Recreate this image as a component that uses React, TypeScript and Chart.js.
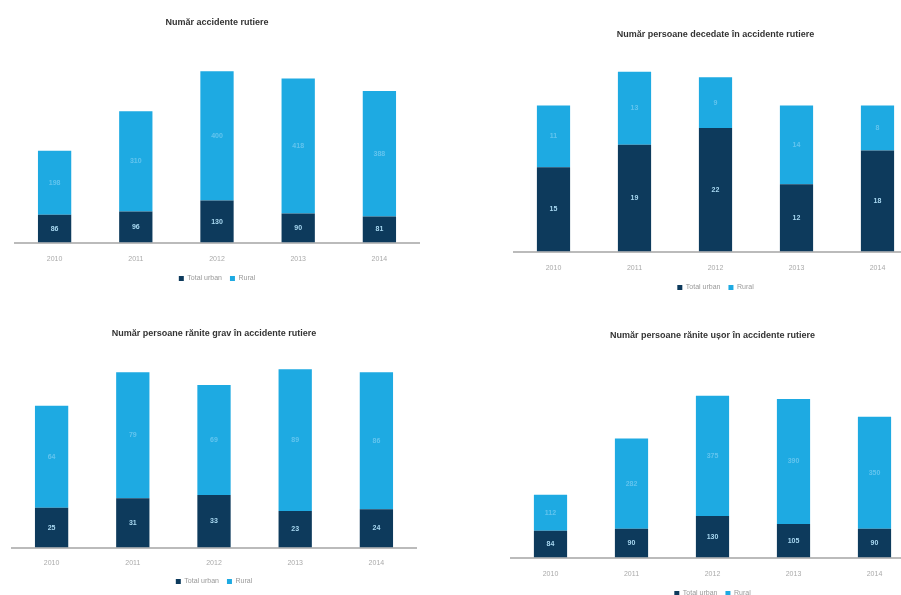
import React, { useEffect, useRef } from "react";
import { Chart, registerables } from "chart.js";

Chart.register(...registerables);

const years = ["2010", "2011", "2012", "2013", "2014"];
const legendDark = "Total urban";
const legendLight = "Rural";

const accidentsTitle = "Număr accidente rutiere";
const accidentsDark = [86, 96, 130, 90, 81];
const accidentsLight = [198, 310, 400, 418, 388];

const deathsTitle = "Număr persoane decedate în accidente rutiere";
const deathsDark = [15, 19, 22, 12, 18];
const deathsLight = [11, 13, 9, 14, 8];

const severeTitle = "Număr persoane rănite grav în accidente rutiere";
const severeDark = [25, 31, 33, 23, 24];
const severeLight = [64, 79, 69, 89, 86];

const lightTitle = "Număr persoane rănite ușor în accidente rutiere";
const lightDark = [84, 90, 130, 105, 90];
const lightLight = [112, 282, 375, 390, 350];

const DARK = "#0d3a5c";
const LIGHT = "#1eaae2";

const labelPlugin = {
  id: "barLabels",
  afterDatasetsDraw(chart: any) {
    const ctx = chart.ctx;
    ctx.save();
    ctx.font = "bold 7px 'Liberation Sans', Arial, sans-serif";
    ctx.textAlign = "center";
    ctx.textBaseline = "middle";
    chart.data.datasets.forEach((ds: any, di: number) => {
      const meta = chart.getDatasetMeta(di);
      meta.data.forEach((el: any, i: number) => {
        const v = ds.data[i];
        const cy = (el.y + el.base) / 2;
        ctx.fillStyle = di === 0 ? "#a9d9f2" : "#62c4ee";
        ctx.fillText(String(v), el.x, cy);
      });
    });
    ctx.restore();
  },
};

type Props = {
  title: string;
  dark: number[];
  light: number[];
  left: number;
  top: number;
  width: number;
  height: number;
  ymax: number;
  titleGap: number;
  tickPad: number;
};

function StackChart({ title, dark, light, left, top, width, height, ymax, titleGap, tickPad }: Props) {
  const ref = useRef<HTMLCanvasElement | null>(null);
  useEffect(() => {
    if (!ref.current) return;
    const chart = new Chart(ref.current, {
      type: "bar",
      data: {
        labels: years,
        datasets: [
          { label: legendDark, data: dark, backgroundColor: DARK, barPercentage: 0.82, categoryPercentage: 0.5 },
          { label: legendLight, data: light, backgroundColor: LIGHT, barPercentage: 0.82, categoryPercentage: 0.5 },
        ],
      },
      options: {
        responsive: false,
        animation: false,
        layout: { padding: 0 },
        plugins: {
          title: {
            display: true,
            text: title,
            color: "#333",
            font: { size: 9, weight: "bold", family: "'Liberation Sans', Arial, sans-serif" },
            padding: { top: 5, bottom: titleGap },
          },
          legend: {
            display: true,
            position: "bottom",
            labels: {
              boxWidth: 5,
              boxHeight: 5,
              color: "#999",
              font: { size: 7, family: "'Liberation Sans', Arial, sans-serif" },
              padding: 8,
            },
          },
          tooltip: { enabled: false },
        },
        scales: {
          x: {
            stacked: true,
            grid: { display: false },
            border: { display: true, color: "#bbb", width: 2 },
            ticks: { color: "#aaa", font: { size: 7, family: "'Liberation Sans', Arial, sans-serif" }, padding: tickPad },
          },
          y: {
            stacked: true,
            display: false,
            min: 0,
            max: ymax,
          },
        },
      },
      plugins: [labelPlugin],
    });
    return () => chart.destroy();
  }, []);
  return (
    <div style={{ position: "absolute", left, top, width, height }}>
      <canvas ref={ref} width={width} height={height} style={{ display: "block" }} />
    </div>
  );
}

export default function App() {
  return (
    <div style={{ position: "fixed", left: 0, top: 0, width: 901, height: 595, overflow: "hidden", background: "#fff" }}>
      <StackChart title={accidentsTitle} dark={accidentsDark} light={accidentsLight} left={14} top={12} width={406} height={280} ymax={615} titleGap={16} tickPad={4} />
      <StackChart title={deathsTitle} dark={deathsDark} light={deathsLight} left={513} top={24} width={405} height={277} ymax={35} titleGap={15} tickPad={4} />
      <StackChart title={severeTitle} dark={severeDark} light={severeLight} left={11} top={323} width={406} height={272} ymax={121} titleGap={16} tickPad={3} />
      <StackChart title={lightTitle} dark={lightDark} light={lightLight} left={510} top={325} width={405} height={282} ymax={608} titleGap={22} tickPad={4} />
    </div>
  );
}
